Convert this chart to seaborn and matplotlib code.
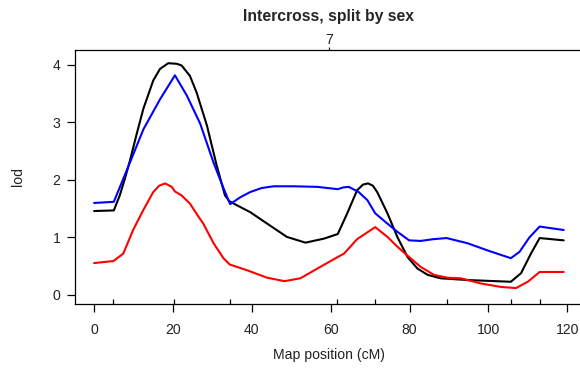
import numpy as np
import pandas as pd
import seaborn as sns
import matplotlib
matplotlib.use("Agg")
import matplotlib.pyplot as plt

# LOD profiles along chromosome 7 (position in cM)
pos_all = [0, 5.0, 6.5, 7.8, 9.1, 10.8, 12.5, 15.0, 16.7, 18.8, 21.0, 22.2, 24.3, 26.0,
           28.6, 31.1, 33.2, 34.3, 37.9, 39.6, 43.9, 48.9, 53.6, 58.3, 61.8, 64.2,
           66.7, 68.2, 69.5, 70.7, 71.8, 74.4, 76.9, 79.5, 82.0, 84.6, 87.9, 94.7,
           105.7, 108.3, 110.8, 113.0, 119.1]
lod_all = [1.46, 1.47, 1.73, 2.02, 2.34, 2.80, 3.24, 3.73, 3.93, 4.03, 4.02, 3.99, 3.81,
           3.52, 2.95, 2.25, 1.73, 1.63, 1.50, 1.44, 1.24, 1.01, 0.91, 0.98, 1.06, 1.42,
           1.82, 1.92, 1.94, 1.90, 1.79, 1.42, 1.01, 0.66, 0.46, 0.35, 0.29, 0.26,
           0.23, 0.38, 0.72, 0.99, 0.95]

pos_female = [0, 5.0, 8.6, 12.5, 16.7, 20.5, 23.5, 26.9, 30.3, 32.8, 34.5, 37.1, 39.6,
              42.5, 45.6, 50.7, 56.6, 61.8, 63.2, 64.6, 67.1, 69.3, 71.3, 74.4, 76.9,
              79.9, 82.8, 86.0, 89.4, 94.7, 100.0, 105.7, 107.9, 110.4, 113.0, 119.1]
lod_female = [1.60, 1.62, 2.22, 2.88, 3.40, 3.82, 3.47, 2.98, 2.30, 1.86, 1.58, 1.70, 1.79,
              1.86, 1.89, 1.89, 1.88, 1.84, 1.87, 1.88, 1.79, 1.65, 1.42, 1.24, 1.10,
              0.95, 0.94, 0.97, 0.99, 0.90, 0.77, 0.64, 0.75, 1.00, 1.19, 1.13]

pos_male = [0, 4.9, 7.4, 9.9, 12.5, 15.0, 16.5, 18.0, 19.7, 20.5, 22.2, 24.3, 26.2, 27.7,
            30.3, 32.8, 34.4, 38.8, 43.9, 48.3, 52.3, 57.4, 61.8, 63.4, 66.7, 71.3, 74.4,
            76.9, 79.9, 82.8, 86.2, 89.6, 93.0, 98.1, 103.2, 107.0, 110.0, 113.0, 119.1]
lod_male = [0.555, 0.59, 0.72, 1.13, 1.48, 1.79, 1.90, 1.94, 1.88, 1.80, 1.73, 1.59, 1.39,
            1.24, 0.90, 0.64, 0.53, 0.43, 0.30, 0.24, 0.29, 0.49, 0.66, 0.72, 0.97, 1.18,
            1.01, 0.84, 0.66, 0.49, 0.35, 0.30, 0.29, 0.20, 0.14, 0.12, 0.23, 0.40, 0.40]

# genetic markers on the chromosome
marker_pos = [4.9, 20.3, 34.4, 61.7, 71.2, 89.4, 105.8, 113.0]

x_ticks = [0, 20, 40, 60, 80, 100, 120]
y_ticks = [0, 1, 2, 3, 4]
chrom_label = "7"
chrom_mid = 59.55

df = pd.concat([
    pd.DataFrame({"pos": pos_all, "lod": lod_all, "group": "all"}),
    pd.DataFrame({"pos": pos_female, "lod": lod_female, "group": "female"}),
    pd.DataFrame({"pos": pos_male, "lod": lod_male, "group": "male"}),
])
palette = {"all": "black", "female": "#0000ff", "male": "#ff0000"}

sns.set_style("white")
plt.rcParams["font.family"] = ["Liberation Sans", "DejaVu Sans"]

FS = 10.1
W, H = 580, 371
fig = plt.figure(figsize=(W / 100, H / 100), dpi=100)
left, right, top, bottom = 75.3, 583.0, 49.7, 304.3
ax = fig.add_axes([left / W, 1 - bottom / H, (right - left) / W, (bottom - top) / H])

sns.lineplot(data=df, x="pos", y="lod", hue="group", palette=palette,
             linewidth=1.5, sort=False, estimator=None, legend=False, ax=ax)

ax.set_xlim(-4.77, 124.0)
ax.set_ylim(-0.162, 4.265)

for s in ax.spines.values():
    s.set_color("black")
    s.set_linewidth(0.9)

ax.set_xticks(x_ticks)
ax.set_xticklabels([str(v) for v in x_ticks], fontsize=FS)
ax.set_yticks(y_ticks)
ax.set_yticklabels([str(v) for v in y_ticks], fontsize=FS)
ax.tick_params(axis="x", which="major", direction="out", length=6, width=0.9,
               pad=7.5, bottom=True, colors="black", labelcolor="#222222")
ax.tick_params(axis="y", which="major", direction="out", length=5.6, width=0.9,
               pad=5, left=True, colors="black", labelcolor="#222222")
ax.set_xticks(marker_pos, minor=True)
ax.tick_params(axis="x", which="minor", direction="in", length=3.6, width=0.9,
               bottom=True, colors="black")

# chromosome label on top
sec = ax.secondary_xaxis("top")
sec.set_xticks([chrom_mid])
sec.set_xticklabels([chrom_label], fontsize=FS, color="#222222")
sec.tick_params(direction="out", length=2, width=0.9, pad=0.1)
sec.spines["top"].set_visible(False)

ax.set_xlabel("Map position (cM)", fontsize=FS, labelpad=8, color="#222222")
ax.set_ylabel("lod", fontsize=FS, labelpad=20, color="#222222")
fig.text(328.5 / W, 1 - 16.7 / H, "Intercross, split by sex", ha="center", va="center",
         fontsize=11.3, fontweight="bold")

fig.savefig("out.png", dpi=100)
